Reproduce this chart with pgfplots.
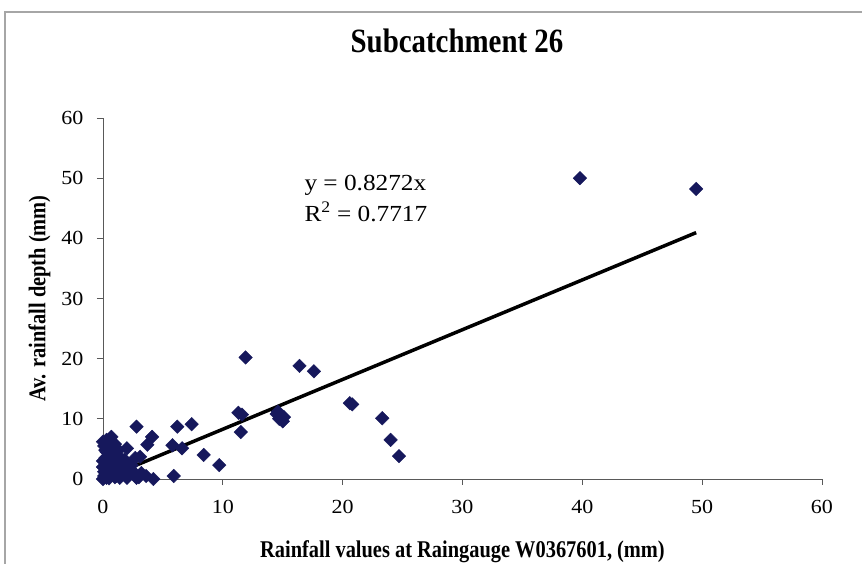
\documentclass[border=0pt]{standalone}
\usepackage{pgfplots}
\pgfplotsset{compat=1.18}
\usepackage{fontspec}
\setmainfont{Liberation Serif}
\newfontfamily\condfont[FakeStretch=0.85]{Liberation Serif}
\newfontfamily\widefont[FakeStretch=1.1]{Liberation Serif}
\definecolor{navy}{RGB}{22,24,92}
\begin{document}
\begin{tikzpicture}[x=1pt,y=1pt]
\useasboundingbox (0,0) rectangle (862,564);
\draw[gray!70, line width=1.2pt] (5,0) -- (5,552) -- (862,552);
\node[font=\condfont\fontsize{34}{40}\selectfont\bfseries] at (457,523) {Subcatchment 26};
\begin{axis}[
  at={(103pt,85pt)}, anchor=south west,
  scale only axis, width=719pt, height=361pt,
  xmin=0, xmax=60, ymin=0, ymax=60,
  xtick={0,10,...,60}, ytick={0,10,...,60},
  axis x line*=bottom, axis y line*=left,
  axis line style={gray!70!black, line width=0.8pt},
  tick style={gray!70!black, line width=0.8pt},
  tick align=outside, major tick length=6pt,
  /pgf/number format/assume math mode=true,
  ticklabel style={font=\widefont\fontsize{20}{24}\selectfont},
  xticklabel style={yshift=-12pt},
  yticklabel style={xshift=-10pt},
  xlabel={Rainfall values at Raingauge W0367601, (mm)},
  ylabel={Av. rainfall depth (mm)},
  xlabel style={font=\condfont\fontsize{24}{28}\selectfont\bfseries, yshift=-20pt},
  ylabel style={font=\condfont\fontsize{24}{28}\selectfont\bfseries, yshift=4pt},
  clip=false,
]
\addplot[only marks, mark=square*, mark size=4.8pt, color=navy,
  every mark/.append style={rotate=45}] coordinates {
(0,0) (0.1,0.5) (0.2,1.0) (0.3,0.2) (0.4,1.5) (0.5,2.5) (0.6,0.8) (0.8,3.0)
(1.0,0.3) (1.2,1.8) (0.2,3.5) (0.3,4.5) (0.1,5.5) (0.3,6.5) (0.7,7.0) (0.5,6.0)
(1.5,1.0) (1.8,3.2) (2.0,5.1) (2.4,2.3) (2.7,3.5) (3.1,3.7) (3.0,0.3) (4.2,0.0)
(2.2,0.8) (1.6,2.5) (0.9,4.2) (0.4,3.8) (0.6,1.2) (1.1,0.5) (0.0,2.0) (0.1,1.2)
(0.0,3.0) (0.8,2.0) (1.4,0.2) (2.5,1.2) (3.2,1.0) (3.6,0.5) (2.8,0.2)
(0.6,5.0) (1.0,5.8) (1.3,3.8) (0.2,4.8) (1.0,2.6) (1.7,1.6) (2.0,0.2) (0.5,0.1)
(1.3,4.8) (0.0,6.2) (0.9,1.0) (2.3,1.6) (1.9,2.0)
(2.8,8.7) (6.2,8.7) (7.4,9.1) (4.1,7.0) (3.7,5.7) (5.8,5.6) (6.6,5.1) (8.4,4.0)
(9.7,2.3) (5.9,0.5)
(11.3,11.0) (11.6,10.7) (11.5,7.8) (11.9,20.2) (14.5,10.8) (14.7,10.0) (15.0,9.6)
(14.6,11.2) (15.1,10.3) (16.4,18.8) (17.6,17.9) (20.6,12.6) (20.8,12.4) (23.3,10.1)
(24.0,6.5) (24.7,3.8) (39.8,50.0) (49.5,48.2)
};
\addplot[black, line width=3.5pt] coordinates {(0,0) (49.5,40.95)};
\node[anchor=base west, inner sep=0pt, font=\widefont\fontsize{23}{27}\selectfont] at (axis cs:16.8,48.0) {y = 0.8272x};
\node[anchor=base west, inner sep=0pt, font=\widefont\fontsize{23}{27}\selectfont] at (axis cs:16.8,42.8) {R\textsuperscript{2} = 0.7717};
\end{axis}
\end{tikzpicture}
\end{document}
